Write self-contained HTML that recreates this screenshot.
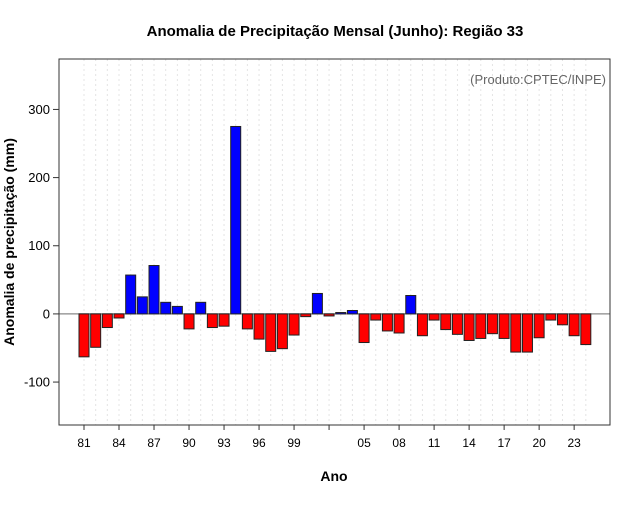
<!DOCTYPE html>
<html><head><meta charset="utf-8"><style>
body{margin:0;background:#fff;font-family:"Liberation Sans",sans-serif}
</style></head><body>
<svg id="c" width="640" height="500" xmlns="http://www.w3.org/2000/svg"></svg>
<script>
const years=[81,82,83,84,85,86,87,88,89,90,91,92,93,94,95,96,97,98,99,0,1,2,3,4,5,6,7,8,9,10,11,12,13,14,15,16,17,18,19,20,21,22,23,24];
const values=[-63,-49,-20,-6,57,25,71,17,11,-22,17,-20,-18,275,-22,-37,-55,-51,-31,-4,30,-3,2,5,-42,-9,-25,-28,27,-32,-9,-23,-30,-39,-36,-29,-36,-56,-56,-35,-9,-16,-32,-45];
const yTicks=[-100,0,100,200,300];
const xTickLabels=["81","84","87","90","93","96","99","","05","08","11","14","17","20","23"];
const NS="http://www.w3.org/2000/svg";
const svg=document.getElementById('c');
const L=59,R=610,T=59,B=425,yMin=-163,yMax=374;
const y=v=>T+(yMax-v)/(yMax-yMin)*(B-T);
const x=i=>84+i*11.67;
function mk(t,a,txt){const e=document.createElementNS(NS,t);for(const k in a)e.setAttribute(k,a[k]);if(txt!==undefined)e.textContent=txt;svg.appendChild(e);return e;}
years.forEach((yr,i)=>{const g=mk('line',{x1:x(i),x2:x(i),y1:T,y2:B,stroke:'#e4e4e4','stroke-dasharray':'2,3','stroke-width':1});

});
const z=mk('line',{x1:L,x2:R,y1:y(0),y2:y(0),stroke:'#888','stroke-width':1.2});


values.forEach((v,i)=>{const y0=y(0),y1=y(v);const r=mk('rect',{x:x(i)-5,y:Math.min(y0,y1),width:10,height:Math.max(Math.abs(y1-y0),1),fill:v>=0?'#0000ff':'#ff0000',stroke:'#222','stroke-width':1});

});
const fr=mk('rect',{x:L,y:T,width:R-L,height:B-T,fill:'none',stroke:'#333','stroke-width':1});


yTicks.forEach(t=>{mk('line',{x1:L-6,x2:L,y1:y(t),y2:y(t),stroke:'#333'});
const tx=mk('text',{x:L-9,y:y(t)+4.5,'text-anchor':'end','font-size':13},String(t));

});
xTickLabels.forEach((lb,k)=>{const i=k*3;mk('line',{x1:x(i),x2:x(i),y1:B,y2:B+5,stroke:'#333'});
if(!lb)return;
const tx=mk('text',{x:x(i),y:B+22,'text-anchor':'middle','font-size':12},lb);

});
const ti=mk('text',{x:335,y:36,'text-anchor':'middle','font-size':15,'font-weight':'bold'},'Anomalia de Precipitação Mensal (Junho): Região 33');


const xl=mk('text',{x:334,y:481,'text-anchor':'middle','font-size':14,'font-weight':'bold'},'Ano');


const yl=mk('text',{x:0,y:0,transform:'translate(14,242) rotate(-90)','text-anchor':'middle','font-size':14,'font-weight':'bold'},'Anomalia de precipitação (mm)');


const pr=mk('text',{x:606,y:84,'text-anchor':'end','font-size':13,fill:'#666'},'(Produto:CPTEC/INPE)');


</script>
</body></html>
